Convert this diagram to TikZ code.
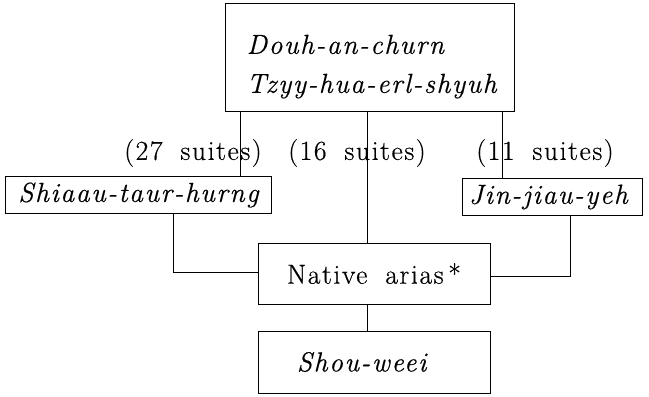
\documentclass[tikz,border=0pt]{standalone}
\usepackage{fontspec}
\setmainfont{Latin Modern Roman}[LetterSpace=6,WordSpace=1.8,FakeBold=0.5]
\begin{document}
\begin{tikzpicture}[x=1bp,y=-1bp,
  box/.style={draw,line width=0.9bp,inner sep=0pt,minimum height=#1},
  box/.default=35bp,
  itname/.style={font=\fontsize{27.5bp}{39bp}\selectfont\itshape},
  suitecount/.style={font=\fontsize{27.5bp}{30bp}\selectfont,inner sep=0pt},
  link/.style={line width=0.9bp}]
\useasboundingbox (0,0) rectangle (649,396);

% boxes
\node[box=108bp,minimum width=289bp] (top) at (369.5,57) {};
\node[itname,inner sep=0pt,align=left,anchor=north west]
  (toptext) at ([xshift=22bp,yshift=-32bp]top.north west)
  {Douh-an-churn\\Tzyy-hua-erl-shyuh};
\node[box=37bp,minimum width=266bp,itname] (left) at (138.5,195) {Shiaau-taur-hurng};
\node[box=37bp,minimum width=180bp,itname,text width=166bp,align=left]
  (right) at (552,197) {Jin-jiau-yeh};
\node[box=61bp,minimum width=232bp,font=\fontsize{27.5bp}{30bp}\selectfont]
  (native) at (374,273.5) {Native arias\,*};
\node[box=62bp,minimum width=232bp,itname,text width=154bp,align=left]
  (shou) at (374,362) {Shou-weei};

% suite counts
\node[suitecount] (c27) at (193,153) {(27 suites)};
\node[suitecount] (c16) at (357,153) {(16 suites)};
\node[suitecount] (c11) at (545,153) {(11 suites)};

% connector positions
\coordinate (xa) at (240,0);
\coordinate (xb) at (367,0);
\coordinate (xc) at (502,0);
\coordinate (xl) at (173,0);
\coordinate (xr) at (570,0);
\coordinate (yl) at (0,272);
\coordinate (yr) at (0,276);

\draw[link] (top.south -| xa) -- (left.north -| xa);
\draw[link] (top.south -| xb) -- (native.north -| xb);
\draw[link] (top.south -| xc) -- (right.north -| xc);
\draw[link] (left.south -| xl) -- (xl |- yl) -- (native.west |- yl);
\draw[link] (right.south -| xr) -- (xr |- yr) -- (native.east |- yr);
\draw[link] (native.south -| xb) -- (shou.north -| xb);
\end{tikzpicture}
\end{document}
